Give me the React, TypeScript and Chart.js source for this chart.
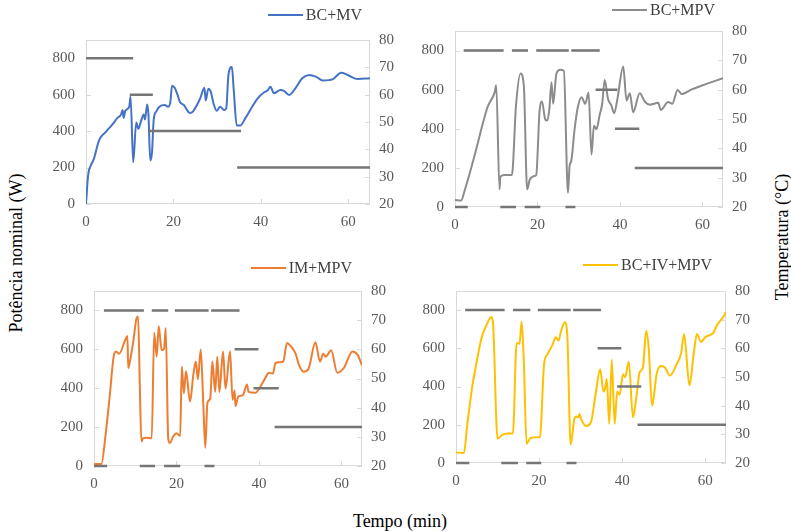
import React, { useEffect, useRef } from "react";
import { Chart, registerables } from "chart.js";

Chart.register(...registerables);

// ---------- axis ticks ----------
const timeTicks = [0, 20, 40, 60];
const powerTicks = [0, 200, 400, 600, 800];
const tempTicks = [20, 30, 40, 50, 60, 70, 80];

// ---------- Panel 1: BC+MV ----------
const p1Label = "BC+MV";
const p1Time = [0, 0.5, 1.1, 1.8, 3, 4.5, 6.1, 7.2, 8, 8.4, 8.6, 9.0, 9.9, 10.2, 10.8, 11.5, 12, 12.6, 13.2, 13.5, 14, 14.3, 14.7, 15.1, 15.5, 16.1, 16.8, 18, 18.8, 19.3, 19.7, 20.3, 20.9, 21.5, 22.4, 23.8, 24.5, 26.1, 27.1, 27.4, 28, 28.5, 29.2, 29.9, 30.7, 31.6, 32.1, 32.6, 33.4, 33.8, 34.5, 35.3, 36.5, 37.6, 39.2, 40.7, 41.6, 42.2, 43, 44.5, 45.3, 46.5, 48, 49.5, 51.1, 52.6, 54.2, 56.5, 58.4, 59.9, 62.2, 65];
const p1Temp = [20, 30.7, 34.1, 36.5, 43.4, 46.3, 49.2, 51.5, 52.7, 54.4, 51.5, 54.1, 55.6, 59.3, 35.3, 49.8, 47.5, 50.4, 52.7, 50.9, 56.4, 52.7, 35.9, 38.8, 50.9, 53.9, 55.6, 56.2, 55.6, 57.3, 63.3, 62.5, 60.2, 57.3, 56.2, 53.3, 53.9, 58.5, 62.5, 57.9, 62.2, 61.4, 56.7, 54.1, 55.6, 54.4, 55, 67.2, 70.1, 62, 48.7, 48.7, 51.5, 54.4, 58.5, 60.8, 61.6, 62.9, 60.5, 61.7, 61.4, 59.9, 62.5, 66, 67.2, 66.6, 65.2, 65.7, 68, 67.2, 65.7, 66];
const p1StepStart = [0, 10, 14.3, 34.6];
const p1StepEnd = [10.8, 15.3, 35.5, 65];
const p1StepPower = [800, 600, 400, 200];

// ---------- Panel 2: BC+MPV ----------
const p2Label = "BC+MPV";
const p2Time = [0, 1.5, 2.3, 4.7, 6.7, 7.9, 9.6, 10, 10.8, 11, 12, 13.8, 14.8, 15.9, 16.7, 17.5, 18.1, 19.3, 19.7, 20.5, 21.1, 21.9, 22.4, 22.9, 23.4, 23.8, 24.6, 25.5, 26.4, 27.4, 27.8, 28.2, 29, 29.8, 30.7, 31.6, 32.4, 33.1, 33.7, 34.3, 35.1, 35.7, 36.3, 37.1, 37.9, 38.6, 39.4, 40.8, 41.6, 42.4, 43.2, 44.8, 46.1, 47.3, 49.3, 49.9, 51.7, 52.7, 54, 55, 57.4, 59.9, 65];
const p2Temp = [22.4, 22.2, 25.4, 37.3, 48.2, 54.1, 59, 61.5, 26, 30.3, 30.9, 30.9, 54.7, 65.5, 61.2, 26, 29.2, 30.6, 30.9, 52.5, 56, 49.8, 49.5, 53.6, 62.5, 55.2, 65.5, 66.8, 66.4, 24.9, 34.1, 35.7, 46.5, 54.1, 57.4, 55.2, 59, 37.9, 47.7, 46.5, 51.5, 55.2, 63.3, 56.9, 54.7, 52, 56.9, 67.9, 56.3, 58.8, 52.3, 58.8, 55.8, 54.9, 55.5, 53.1, 55.8, 55.2, 59.9, 58.5, 60.1, 61.4, 63.9];
const p2StepStart = [2.1, 13.8, 19.7, 28.2, 0, 11, 16.9, 26.8, 34.1, 38.8, 43.6];
const p2StepEnd = [11.8, 17.7, 27.6, 35.1, 3.1, 14.8, 20.7, 29.2, 39.4, 44.7, 65];
const p2StepPower = [800, 800, 800, 800, 0, 0, 0, 0, 600, 400, 200];

// ---------- Panel 3: IM+MPV ----------
const p3Label = "IM+MPV";
const p3Time = [0, 1.8, 2.8, 3.8, 4.9, 5.4, 6.1, 7.5, 8.1, 8.3, 8.7, 9.5, 10.3, 10.7, 11.1, 11.5, 11.9, 12.7, 14, 14.6, 15.2, 15.7, 16.4, 17, 17.4, 18, 18.4, 19.2, 20, 20.9, 21.3, 21.8, 22.3, 23.3, 24.1, 24.7, 25.2, 25.9, 26.5, 27, 27.5, 28.2, 28.7, 29.4, 29.9, 30.4, 31.3, 31.9, 33, 33.6, 34.1, 34.3, 35, 36.1, 37.1, 37.5, 39.1, 40.3, 41.6, 42.4, 43.4, 44, 45, 45.9, 46.8, 47.6, 48.9, 49.7, 50.9, 52.1, 53.7, 54.8, 55.6, 56.2, 57.5, 59, 60.6, 62.7, 63.9, 65];
const p3Temp = [20.7, 20.7, 30.6, 43.8, 58.5, 59.3, 58.5, 62.9, 64.6, 53.6, 55.8, 62.4, 70.6, 71.3, 48.1, 28.4, 29.5, 29.7, 29.5, 65.7, 57.5, 67.9, 59.7, 60.2, 67.3, 29.5, 27.9, 30.1, 31.2, 30.3, 54.1, 44.9, 52.5, 42.1, 51.4, 55.8, 49.8, 59.9, 41.6, 26.3, 41.6, 43.2, 55.8, 45.4, 57.5, 45.4, 59.3, 46.5, 59.3, 42.7, 45.9, 40.5, 43.8, 44.3, 47.9, 45.4, 45.1, 47.1, 50.3, 52, 51.7, 55.3, 55.6, 55.8, 62.2, 61.3, 58.5, 54.7, 52.3, 53.6, 62.4, 55.8, 58.5, 57.5, 59.7, 52, 53.6, 59.3, 58.2, 54.5];
const p3StepStart = [2.4, 14, 19.6, 28.4, 0, 11.1, 17, 26.8, 34.1, 38.7, 43.8];
const p3StepEnd = [12.1, 18, 27.8, 35.3, 3.2, 14.8, 20.9, 29.2, 39.9, 44.8, 65];
const p3StepPower = [800, 800, 800, 800, 0, 0, 0, 0, 600, 400, 200];

// ---------- Panel 4: BC+IV+MPV ----------
const p4Label = "BC+IV+MPV";
const p4Time = [0, 1.9, 2.7, 3.8, 5, 6.2, 7.4, 8.5, 8.9, 10, 11.1, 12.3, 13.7, 14.6, 15.3, 15.8, 16.3, 17, 17.9, 19.2, 20.2, 21.2, 22, 23.2, 24, 24.7, 25.2, 26.2, 26.8, 27.6, 28.5, 28.9, 29.4, 29.7, 30.1, 31.3, 32.5, 33.7, 34.7, 35.5, 35.9, 36.3, 36.9, 37.5, 38.2, 38.8, 39.4, 40.2, 40.7, 41.6, 42.6, 43.4, 44.2, 45, 45.8, 46.4, 47.2, 48.3, 49.3, 50.3, 51.5, 53.1, 54.2, 54.9, 56.2, 57.2, 58, 59, 60, 62, 62.8, 64.4, 65];
const p4Temp = [23.7, 23.5, 33.2, 45.5, 55.5, 63.9, 68.3, 70.9, 68.9, 28.5, 29.8, 30.3, 30.3, 61.9, 61.6, 69.4, 56.6, 26.7, 28.7, 29, 29, 54.4, 57.9, 61.1, 63.9, 62.7, 65.5, 69.1, 64.4, 26.5, 35.4, 36.2, 35.9, 37.1, 35.4, 32.9, 34.3, 44.9, 52.7, 44.9, 46, 49.3, 33.7, 56, 33.7, 44.9, 43.8, 51, 49.9, 55.3, 35.9, 42.7, 51.6, 53.3, 66.1, 59.9, 39.9, 51, 53.8, 53.3, 50.5, 54.4, 58.3, 65, 47.1, 57.7, 65, 62.2, 63.9, 65.5, 68, 71.1, 72.8];
const p4StepStart = [2.2, 13.7, 19.7, 28.2, 0, 10.9, 16.9, 26.6, 34.1, 38.8, 43.7];
const p4StepEnd = [11.7, 17.9, 27.6, 34.9, 3.2, 14.9, 20.5, 29, 39.8, 44.6, 65];
const p4StepPower = [800, 800, 800, 800, 0, 0, 0, 0, 600, 400, 200];

const SERIF = "Liberation Serif";
const TICK_COLOR = "#595959";
const FRAME_COLOR = "#d9d9d9";
const STEP_COLOR = "#767676";

const LEFT_W = 50;
const RIGHT_W = 40;
const BOTTOM_H = 30;
const PAD_TOP = 12;

type PanelDef = {
  label: string;
  color: string;
  time: number[];
  temp: number[];
  stepStart: number[];
  stepEnd: number[];
  stepPower: number[];
  area: { l: number; t: number; r: number; b: number };
  legend: { right: number; cy: number };
};

const panels: PanelDef[] = [
  { label: p1Label, color: "#4472C4", time: p1Time, temp: p1Temp, stepStart: p1StepStart, stepEnd: p1StepEnd, stepPower: p1StepPower, area: { l: 86, t: 32, r: 370, b: 204 }, legend: { right: 362, cy: 15 } },
  { label: p2Label, color: "#8c8c8c", time: p2Time, temp: p2Temp, stepStart: p2StepStart, stepEnd: p2StepEnd, stepPower: p2StepPower, area: { l: 455, t: 23, r: 723, b: 207 }, legend: { right: 715, cy: 10 } },
  { label: p3Label, color: "#ED7D31", time: p3Time, temp: p3Temp, stepStart: p3StepStart, stepEnd: p3StepEnd, stepPower: p3StepPower, area: { l: 94, t: 283, r: 362, b: 466 }, legend: { right: 352, cy: 268 } },
  { label: p4Label, color: "#FFC000", time: p4Time, temp: p4Temp, stepStart: p4StepStart, stepEnd: p4StepEnd, stepPower: p4StepPower, area: { l: 456, t: 283, r: 726, b: 463 }, legend: { right: 712, cy: 265 } },
];

const framePlugin = {
  id: "frameTicks",
  beforeDatasetsDraw(chart: any) {
    const { ctx, chartArea: a, scales } = chart;
    ctx.save();
    ctx.strokeStyle = FRAME_COLOR;
    ctx.lineWidth = 1;
    ctx.strokeRect(Math.round(a.left) + 0.5, Math.round(a.top) + 0.5, Math.round(a.width) - 1, Math.round(a.height) - 1);
    ctx.beginPath();
    scales.x.ticks.forEach((t: any) => {
      const px = Math.round(scales.x.getPixelForValue(t.value)) + 0.5;
      ctx.moveTo(px, a.bottom);
      ctx.lineTo(px, a.bottom - 5);
    });
    scales.yP.ticks.forEach((t: any) => {
      const py = Math.round(scales.yP.getPixelForValue(t.value)) + 0.5;
      ctx.moveTo(a.left, py);
      ctx.lineTo(a.left + 5, py);
    });
    scales.yT.ticks.forEach((t: any) => {
      const py = Math.round(scales.yT.getPixelForValue(t.value)) + 0.5;
      ctx.moveTo(a.right, py);
      ctx.lineTo(a.right - 5, py);
    });
    ctx.stroke();
    ctx.restore();
  },
};

function Panel({ def }: { def: PanelDef }) {
  const ref = useRef<HTMLCanvasElement | null>(null);
  const { l, t, r, b } = def.area;
  const width = r - l + LEFT_W + RIGHT_W;
  const height = b - t + PAD_TOP + BOTTOM_H;

  useEffect(() => {
    if (!ref.current) return;
    const stepData: any[] = [];
    def.stepStart.forEach((s, i) => {
      stepData.push({ x: s, y: def.stepPower[i] });
      stepData.push({ x: def.stepEnd[i], y: def.stepPower[i] });
      stepData.push({ x: def.stepEnd[i], y: null });
    });
    const tempData = def.time.map((x, i) => ({ x, y: def.temp[i] }));
    const tickFont = { family: SERIF, size: 15 };
    const chart = new Chart(ref.current, {
      type: "line",
      data: {
        datasets: [
          {
            label: "Potência",
            data: stepData,
            yAxisID: "yP",
            borderColor: STEP_COLOR,
            borderWidth: 2.5,
            pointRadius: 0,
            spanGaps: false,
            tension: 0,
            clip: false as any,
          },
          {
            label: def.label,
            data: tempData,
            yAxisID: "yT",
            borderColor: def.color,
            borderWidth: 2,
            pointRadius: 0,
            cubicInterpolationMode: "monotone",
          },
        ],
      },
      options: {
        animation: false,
        responsive: false,
        maintainAspectRatio: false,
        font: { family: SERIF },
        layout: { padding: { top: PAD_TOP, left: 0, right: 0, bottom: 0 } },
        plugins: { legend: { display: false }, tooltip: { enabled: false } },
        scales: {
          x: {
            type: "linear",
            min: 0,
            max: 65,
            grid: { display: false, drawTicks: false },
            border: { display: false },
            afterBuildTicks: (s: any) => { s.ticks = timeTicks.map((v) => ({ value: v })); },
            afterFit: (s: any) => { s.height = BOTTOM_H; },
            ticks: { color: TICK_COLOR, font: tickFont, padding: 9, maxRotation: 0, autoSkip: false },
          },
          yP: {
            type: "linear",
            position: "left",
            min: 0,
            max: 900,
            grid: { display: false, drawTicks: false },
            border: { display: false },
            afterBuildTicks: (s: any) => { s.ticks = powerTicks.map((v) => ({ value: v })); },
            afterFit: (s: any) => { s.width = LEFT_W; },
            ticks: { color: TICK_COLOR, font: tickFont, padding: 11, autoSkip: false },
          },
          yT: {
            type: "linear",
            position: "right",
            min: 20,
            max: 80,
            grid: { display: false, drawTicks: false },
            border: { display: false },
            afterBuildTicks: (s: any) => { s.ticks = tempTicks.map((v) => ({ value: v })); },
            afterFit: (s: any) => { s.width = RIGHT_W; },
            ticks: { color: TICK_COLOR, font: tickFont, padding: 9, autoSkip: false },
          },
        },
      } as any,
      plugins: [framePlugin],
    });
    return () => chart.destroy();
  }, [def]);

  return (
    <>
      <canvas
        ref={ref}
        width={width}
        height={height}
        style={{ position: "absolute", left: l - LEFT_W, top: t - PAD_TOP, width, height }}
      />
      <div
        style={{
          position: "absolute",
          right: 791 - def.legend.right,
          top: def.legend.cy - 10,
          height: 20,
          display: "flex",
          alignItems: "center",
          fontFamily: SERIF,
          fontSize: 16,
          color: "#404040",
          whiteSpace: "nowrap",
        }}
      >
        <span style={{ display: "inline-block", width: 35, height: 2, background: def.color, marginRight: 3 }} />
        <span>{def.label}</span>
      </div>
    </>
  );
}

export default function App() {
  return (
    <div style={{ position: "fixed", left: 0, top: 0, width: 791, height: 531, background: "#fff", overflow: "hidden" }}>
      {panels.map((p) => (
        <Panel key={p.label} def={p} />
      ))}
      <div
        style={{
          position: "absolute",
          left: 16,
          top: 253,
          transform: "translate(-50%, -50%) rotate(-90deg)",
          fontFamily: SERIF,
          fontSize: 18,
          color: "#000",
          whiteSpace: "nowrap",
        }}
      >
        Potência nominal (W)
      </div>
      <div
        style={{
          position: "absolute",
          left: 782,
          top: 237,
          transform: "translate(-50%, -50%) rotate(-90deg)",
          fontFamily: SERIF,
          fontSize: 18,
          color: "#000",
          whiteSpace: "nowrap",
        }}
      >
        Temperatura (°C)
      </div>
      <div
        style={{
          position: "absolute",
          left: 400,
          top: 521,
          transform: "translate(-50%, -50%)",
          fontFamily: SERIF,
          fontSize: 18,
          color: "#000",
          whiteSpace: "nowrap",
        }}
      >
        Tempo (min)
      </div>
    </div>
  );
}
